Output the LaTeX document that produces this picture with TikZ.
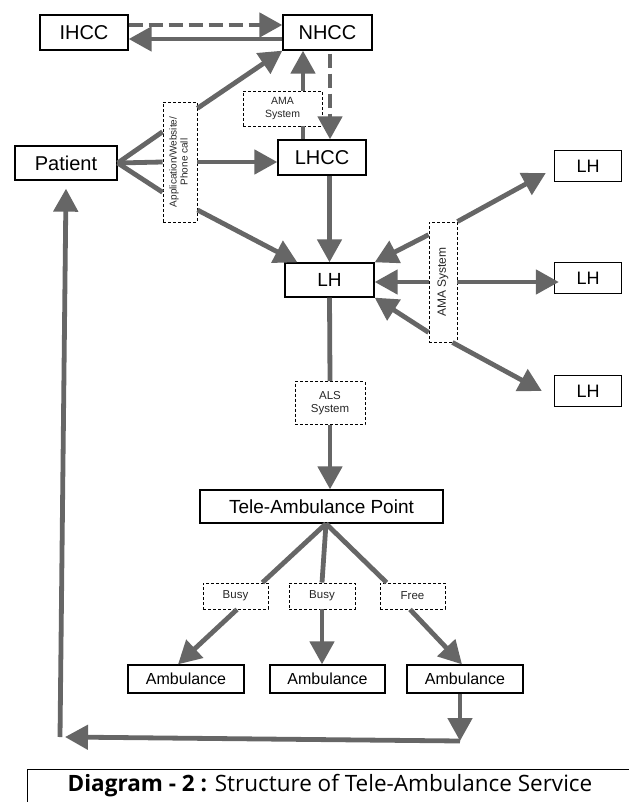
\documentclass[tikz,border=0pt]{standalone}
\usepackage{fontspec}
\usepackage{graphicx}
\setmainfont{Liberation Sans}
\newfontfamily\capfont{Open Sans}
\usetikzlibrary{arrows.meta,calc}
\definecolor{arrowgray}{RGB}{102,102,102}

\begin{document}
\begin{tikzpicture}[x=1pt, y=-1pt,
box/.style={draw, line width=1.3pt, inner sep=0pt, align=center, font=\fontsize{20}{24}\selectfont},
lhbox/.style={draw, line width=1.3pt, inner sep=0pt, minimum width=67pt, minimum height=31pt, font=\fontsize{18}{22}\selectfont},
ambbox/.style={draw, line width=1.3pt, inner sep=0pt, minimum width=116pt, minimum height=28pt, font=\fontsize{16}{19}\selectfont},
tag/.style={draw, line width=0.9pt, dash pattern=on 3pt off 2pt, inner sep=0pt, align=center, text=black!85},
arr/.style={draw=arrowgray, line width=4.8pt, -{Triangle[length=23pt,width=24pt]}},
link/.style={draw=arrowgray, line width=4.8pt},
darr/.style={arr, dash pattern=on 14pt off 6pt}]

\useasboundingbox (0,0) rectangle (629,802);

% top row and callers
\node[box, minimum width=88pt, minimum height=35pt] (ihcc) at (84,32.5) {IHCC};
\node[box, minimum width=89pt, minimum height=35pt] (nhcc) at (327.5,32.5) {NHCC};
\node[box, minimum width=102pt, minimum height=34pt] (patient) at (66,163) {Patient};
\node[tag, minimum width=34pt, minimum height=120pt, font=\fontsize{10}{11}\selectfont] (app) at (180,162) {\rotatebox{90}{\begin{tabular}{@{}c@{}}Application/Website/\\Phone call\end{tabular}}};
\node[tag, minimum width=79pt, minimum height=35pt, font=\fontsize{10.5}{12.5}\selectfont] (amasm) at (282.5,108.5) {AMA\\System};
\node[box, minimum width=88pt, minimum height=35pt] (lhcc) at (322,157.5) {LHCC};

% local hospitals
\node[box, minimum width=89pt, minimum height=34pt, font=\fontsize{19}{23}\selectfont] (lh) at (329.5,280) {LH};
\node[tag, minimum width=28pt, minimum height=120pt, font=\fontsize{12}{14}\selectfont] (ama) at (443,282) {\rotatebox{90}{AMA System}};
\node[lhbox] (lha) at (588,166) {LH};
\node[lhbox] (lhb) at (588,278) {LH};
\node[lhbox] (lhc) at (588,391) {LH};
\node[tag, minimum width=70pt, minimum height=43pt, font=\fontsize{11.5}{13.5}\selectfont] (als) at (330,403) {ALS\\System};

% ambulance side
\node[box, minimum width=243pt, minimum height=33pt, font=\fontsize{19}{23}\selectfont] (tap) at (321.5,506.5) {Tele-Ambulance Point};
\node[tag, minimum width=65pt, minimum height=26pt, font=\fontsize{11.5}{13.5}\selectfont] (bsa) at (235.5,596) {Busy};
\node[tag, minimum width=66pt, minimum height=26pt, font=\fontsize{11.5}{13.5}\selectfont] (bsb) at (322,596) {Busy};
\node[tag, minimum width=65pt, minimum height=26pt, font=\fontsize{11.5}{13.5}\selectfont] (free) at (412.5,596) {Free};
\node[ambbox] (amba) at (186,679) {Ambulance};
\node[ambbox, minimum width=115pt] (ambb) at (327.5,679) {Ambulance};
\node[ambbox] (ambc) at (465,679) {Ambulance};

\coordinate (amx) at (303,0);
\coordinate (corner) at (460,741);
\coordinate (turn) at (60,737);

\draw[darr] ([yshift=7.5pt]ihcc.east) -- ([yshift=7.5pt]nhcc.west);
\draw[arr] ([yshift=-6.5pt]nhcc.west) -- ([yshift=-6.5pt]ihcc.east);
\draw[link] (patient.east) -- (app.120);
\draw[link] (patient.east) -- (app.west);
\draw[link] (patient.east) -- (app.240);
\draw[arr] (app.72) -- (nhcc.south west);
\draw[arr] (app.east) -- (app.east -| lhcc.west);
\draw[arr] (app.-70) -- ([xshift=13pt]lh.north west);
\draw[link] (lhcc.north -| amx) -- (amasm.south -| amx);
\draw[arr] (amasm.north -| amx) -- (nhcc.south -| amx);
\draw[darr] ([xshift=8pt,yshift=-3pt]lhcc.north |- nhcc.south) -- ([xshift=8pt]lhcc.north);
\draw[arr] (lhcc.south -| lh.north) -- (lh.north);

\draw[arr] (ama.107) -- (lh.north east);
\draw[arr] (ama.west) -- (ama.west -| lh.east);
\draw[arr] (ama.-106) -- (lh.south east);
\draw[arr] (ama.north east) -- ([xshift=-8pt,yshift=-7pt]lha.west);
\draw[arr] (ama.east) -- ([xshift=5pt]ama.east -| lhb.west);
\draw[arr] ([xshift=-5pt]ama.south east) -- ([xshift=-12pt]lhc.west);
\draw[link] (lh.south) -- (als.north);
\draw[arr] (als.south) -- (als.south |- tap.north);

\draw[link] ([xshift=4.5pt]tap.south) -- ([xshift=-6pt]bsa.north east);
\draw[link] ([xshift=4.5pt]tap.south) -- (bsb.north);
\draw[link] ([xshift=4.5pt]tap.south) -- ([xshift=7pt]free.north west);
\draw[arr] ([xshift=1.5pt]bsa.south) -- ([xshift=-8pt]amba.north);
\draw[arr] (bsb.south) -- (bsb.south |- ambb.north);
\draw[arr] ([xshift=-2.5pt]free.south) -- ([xshift=-3pt]ambc.north);

% back to the patient
\draw[arr] (ambc.south -| corner) -- (corner);
\draw[arr] (corner) -- ([xshift=5pt]turn);
\draw[arr] (turn) -- ([yshift=-8pt]patient.south);

% caption
\draw[line width=1pt] (27,802) |- (629,769);
\node[font=\capfont\fontsize{22.5}{26}\selectfont] (cap) at (330,786) {\textbf{Diagram - 2 :} Structure of Tele-Ambulance Service};
\end{tikzpicture}
\end{document}
